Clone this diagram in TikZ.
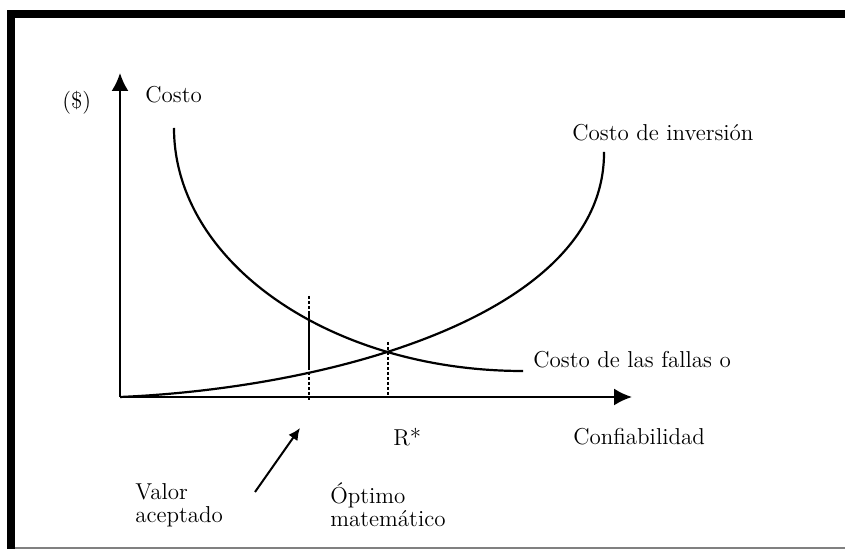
\documentclass[tikz,border=0pt]{standalone}
\usepackage{fontspec}
\usetikzlibrary{arrows.meta}
\tikzset{lbl/.style={anchor=west,inner sep=0pt,font=\fontsize{11.5}{11.7}\selectfont},
         crv/.style={line width=1.1pt},
         eje/.style={line width=1pt},
         punt/.style={line width=1.2pt,dash pattern=on 1.5pt off 1pt}}

\begin{document}
\begin{tikzpicture}[x=0.5pt,y=-0.5pt,>={Latex[length=9pt,width=8.5pt]}]
        \useasboundingbox (0,0) rectangle (845,549);
        % marco
        \fill (7,10) rectangle (845,18);
        \fill (7,10) rectangle (15,549);
        \draw[gray,line width=1pt] (15,548) -- (845,548);

        % ejes
        \coordinate (o) at (120,397);
        \coordinate (ytop) at (120,73);
        \coordinate (xend) at (632,397);
        \draw [->,eje] (o) -- (ytop);
        \draw [->,eje] (o) -- (xend);

        % curvas
        \coordinate (ci) at (604,152);
        \coordinate (cf) at (174,128);
        \draw [crv] (o) .. controls (330,388) and (605,315) .. (ci);
        \draw [crv] (cf) arc[start angle=180,end angle=90,x radius=349,y radius=243];

        % lineas verticales
        \coordinate (va1) at (309,296);
        \coordinate (va2) at (309,312);
        \coordinate (va3) at (309,367);
        \coordinate (va4) at (309,402);
        \draw [punt] (va1) -- (va2);
        \draw [line width=1.2pt] (va2) -- (va3);
        \draw [punt] (va3) -- (va4);
        \coordinate (rs1) at (388,342);
        \coordinate (rs2) at (388,397);
        \draw [punt] (rs1) -- (rs2);

        % textos
        \node[lbl] (costo) at (145,95) {Costo};
        \node[lbl] (pesos) at (62,103) {(\$)};
        \node[lbl] (inv) at (572,133) {Costo de inversión};
        \node[lbl] (fallas) at (533,360) {Costo de las fallas o};
        \node[lbl] (conf) at (573,437) {Confiabilidad};
        \node[lbl] (rstar) at (393,437) {R*};
        \node[lbl,align=left] (valor) at (135,505) {Valor\\aceptado};
        \node[lbl,align=left] (optimo) at (330,505) {Óptimo\\matemático};

        \coordinate (fcola) at (255,492);
        \coordinate (fpunta) at (300,428);
        \draw [-{Latex[length=6pt,width=5.5pt]},line width=1pt] (fcola) -- (fpunta);
\end{tikzpicture}
\end{document}
